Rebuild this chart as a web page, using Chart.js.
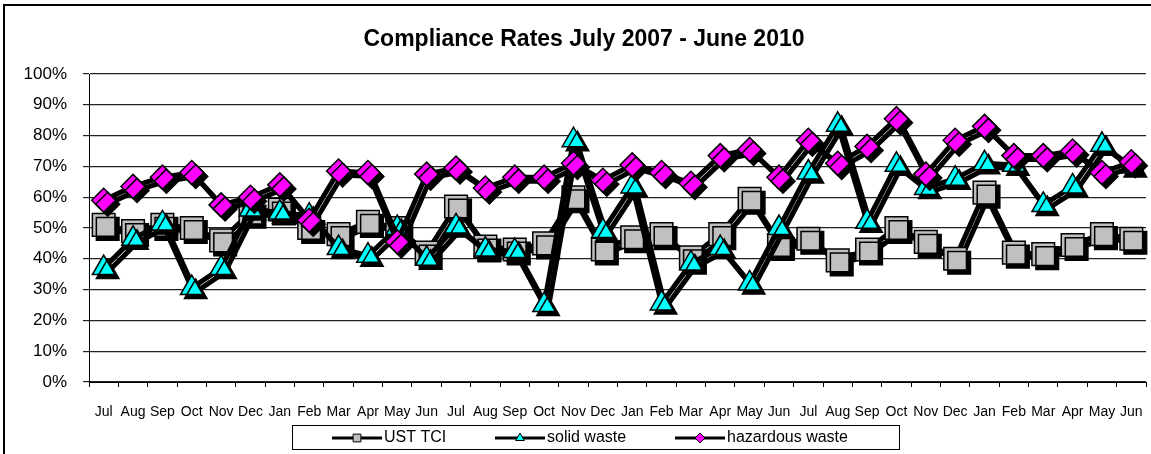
<!DOCTYPE html>
<html>
<head>
<meta charset="utf-8">
<script src="https://cdn.jsdelivr.net/npm/chart.js@4/dist/chart.umd.min.js"></script>
<style>
  html, body { margin: 0; padding: 0; background: #fff; }
  canvas { display: block; }
</style>
</head>
<body>
<canvas id="complianceChart" width="1151" height="454"></canvas>
<script>
// Compliance rates, July 2007 - June 2010 (percent)
const months = ['Jul', 'Aug', 'Sep', 'Oct', 'Nov', 'Dec', 'Jan', 'Feb', 'Mar', 'Apr', 'May', 'Jun'];
const labels = months.concat(months, months);

const ustTci = [51, 49, 51, 50, 46, 55, 56, 50, 48, 52, 50, 42,
                57, 44, 43, 45, 60, 43, 47, 48, 40.5, 48, 59.5, 44.5,
                46.5, 39.5, 43, 50, 45.5, 40, 61.5, 42, 41.5, 44.5, 48, 46.5];
const solidWaste = [37, 46.5, 51.5, 30.5, 37, 56, 55, 54, 43.5, 41, 50, 40,
                    50.5, 43, 42.5, 25, 78.5, 49, 63.5, 25.5, 38.5, 43.5, 32, 50,
                    68, 83.5, 52, 70.5, 63, 66, 71, 70.5, 57.5, 63.5, 77, 70];
const hazardousWaste = [59, 63.5, 66.5, 68, 57.5, 60, 64, 52.5, 68.5, 68, 45.5, 67.5,
                        69.5, 63, 66.5, 66.5, 71, 65.5, 70.5, 68, 64.5, 73.5, 75.5, 66.5,
                        78.5, 71, 76.5, 85.5, 67.5, 78.5, 83, 73.5, 73.5, 75, 68, 71.5];

const seriesNames = ['UST TCI', 'solid waste', 'hazardous waste'];
const yTicks = [0, 10, 20, 30, 40, 50, 60, 70, 80, 90, 100];

// Excel-style hard black drop shadow on lines and markers
const shadowPlugin = {
    id: 'dropShadow',
    beforeDatasetDraw(chart) {
        const ctx = chart.ctx;
        ctx.save();
        ctx.shadowColor = '#000';
        ctx.shadowBlur = 0;
        ctx.shadowOffsetX = 4;
        ctx.shadowOffsetY = 4;
    },
    afterDatasetDraw(chart) {
        chart.ctx.restore();
    }
};

// outer frame + boxed legend with line/marker samples
const framePlugin = {
    id: 'frameAndLegend',
    beforeDraw(chart) {
        const ctx = chart.ctx;
        ctx.save();
        ctx.fillStyle = '#fff';
        ctx.fillRect(0, 0, chart.width, chart.height);
        ctx.strokeStyle = '#000';
        ctx.lineWidth = 2;
        ctx.strokeRect(4, 5, chart.width + 20, chart.height + 20);
        ctx.restore();
    },
    afterDraw(chart) {
        const ctx = chart.ctx;
        ctx.save();
        ctx.strokeStyle = '#000';
        ctx.lineWidth = 1;
        ctx.strokeRect(292.5, 425.5, 607, 24);
        const cy = 438;
        const starts = [332, 495, 675];
        chart.data.datasets.forEach((ds, i) => {
            const x0 = starts[i];
            ctx.strokeStyle = '#000';
            ctx.lineWidth = 3;
            ctx.beginPath();
            ctx.moveTo(x0, cy);
            ctx.lineTo(x0 + 50, cy);
            ctx.stroke();
            ctx.fillStyle = ds.pointBackgroundColor;
            ctx.strokeStyle = '#000';
            ctx.lineWidth = 1;
            Chart.helpers.drawPoint(ctx, {
                pointStyle: ds.pointStyle,
                radius: ds.pointStyle === 'rect' ? 5.5 : 5,
                rotation: 0,
                borderWidth: 1
            }, x0 + 25, cy);
            ctx.fillStyle = '#000';
            ctx.font = '16px "Liberation Sans", Arial, sans-serif';
            ctx.textBaseline = 'middle';
            ctx.textAlign = 'left';
            ctx.fillText(ds.label, x0 + 52, cy);
        });
        ctx.restore();
    }
};

const makeSet = (label, data, style, color, radius, order) => ({
    label: label,
    data: data,
    borderColor: '#000',
    borderWidth: 5,
    pointStyle: style,
    pointRadius: radius,
    pointHoverRadius: radius,
    pointBackgroundColor: color,
    pointBorderColor: '#000',
    pointBorderWidth: 1.5,
    tension: 0,
    clip: false,
    order: order
});

new Chart(document.getElementById('complianceChart'), {
    type: 'line',
    data: {
        labels: labels,
        datasets: [
            makeSet(seriesNames[0], ustTci, 'rect', '#C0C0C0', 16, 3),
            makeSet(seriesNames[1], solidWaste, 'triangle', '#00FFFF', 13, 2),
            makeSet(seriesNames[2], hazardousWaste, 'rectRot', '#FF00FF', 12, 1)
        ]
    },
    options: {
        responsive: false,
        animation: false,
        devicePixelRatio: 1,
        layout: { autoPadding: false, padding: { left: 22, right: 5, top: 0, bottom: 32 } },
        plugins: {
            legend: { display: false },
            tooltip: { enabled: false },
            title: {
                display: true,
                text: 'Compliance Rates July 2007 - June 2010',
                color: '#000',
                font: { family: '"Liberation Sans", Arial, sans-serif', size: 23, weight: 'bold' },
                padding: { top: 26, bottom: 20.4 }
            }
        },
        scales: {
            x: {
                offset: true,
                grid: { display: true, offset: true, drawOnChartArea: false, drawTicks: true, tickLength: 5, color: '#000' },
                border: { display: true, color: '#000', width: 1 },
                ticks: {
                    color: '#000',
                    autoSkip: false,
                    maxRotation: 0,
                    padding: 17,
                    font: { family: '"Liberation Sans", Arial, sans-serif', size: 14 }
                },
                afterFit(scale) {
                    scale.height = 40;
                    scale.paddingLeft = 0;
                    scale.paddingRight = 0;
                }
            },
            y: {
                min: 0,
                max: 100,
                grid: { color: '#222', lineWidth: 1.2, tickLength: 6, drawTicks: true },
                border: { display: true, color: '#000', width: 1 },
                afterBuildTicks(scale) { scale.ticks = yTicks.map(v => ({ value: v })); },
                ticks: {
                    color: '#000',
                    padding: 16,
                    callback: v => v + '%',
                    font: { family: '"Liberation Sans", Arial, sans-serif', size: 17 }
                },
                afterFit(scale) { scale.width = 67; }
            }
        }
    },
    plugins: [shadowPlugin, framePlugin]
});
</script>
</body>
</html>
